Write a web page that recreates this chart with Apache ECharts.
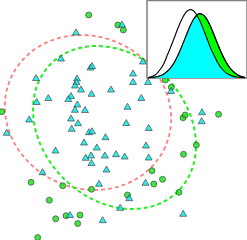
<!DOCTYPE html>
<html><head><meta charset="utf-8">
<script src="https://cdn.jsdelivr.net/npm/echarts@6/dist/echarts.min.js"></script>
<style>html,body{margin:0;padding:0;background:#fff}#c{width:247px;height:240px}</style>
</head><body><div id="c"></div>
<script>
// Group A (cyan triangles)
const triX = [76,61,122,143,90.5,92,133,36,77,76.5,75,133,148,81,111,91.5,141.3,48.3,36.7,71,68.3,77.3,127.5,75,85,71,29.2,78,126.3,148.7,71.7,6.7,89,92,105.5,84,96.8,146,55.5,85.7,91,104.8,116,124.7,148.7,91.5,106.5,42.5,99,145.5,129.2,120.2,70,102.7,183.2,171,202,201.7];
const triY = [32,58,24,61,67,65.5,73,77.5,78,81.5,85,81.5,81.5,89,89,93.3,97.5,97.5,101.5,95.5,98.5,104,106.3,109.3,109.5,118,119,122.7,122.5,127.5,128.3,132.3,131.7,130.8,136.7,142,147,145,150,157.3,155,155,153.7,156,157,162.5,169,171.7,183.3,182.3,197.7,207.3,214.5,219.7,213.3,90.5,111.7,120.7];
// Group B (green circles)
const circX = [88.7,117.8,123.3,1.7,165.3,171.3,183,185.2,218.5,196.3,183.5,152,162.5,153.8,179,127.5,91.5,62.7,31,49.3,55.7,66,80,77.7,37.7];
const circY = [15,25,30,111.7,80,87.3,117.8,115,114.3,145,154.3,170.7,179.3,184,192.3,195,189.3,185.7,182.3,200.2,218.8,215.7,215,223.5,237.5];
// Ellipse parameters: [centerX, centerY, semiMajor, semiMinor, angleDeg]
const redEllipse = [88, 112.5, 84.5, 76, 24];
const greenEllipse = [114.5, 127.5, 90, 72, 45];
// Inset densities
const densX = [148,152,156,160,164,168,172,176,180,184,188,192,196,200,204,208,212,216,220,224,228,232,236,240,244,247];
const whiteDens = [0.5,1.5,3.5,8,14,23.5,33,43.3,53.3,61.6,67,68.4,65.5,59,49.9,39.7,29.6,21.5,13.7,8.5,4.9,2.7,1.4,0.7,0.3,0.1];
const greenDens = [0.2,0.5,1.0,2.0,3.8,6.8,11.3,17.6,25.7,35.1,45.0,54.0,60.8,64.2,63.4,58.8,51.1,41.5,31.7,22.7,15.2,9.5,5.6,2.8,1.2,0.5];

function ellipsePts(p) {
  const [cx, cy, a, b, deg] = p, th = deg * Math.PI / 180, pts = [];
  for (let i = 0; i <= 180; i++) {
    const t = i / 180 * 2 * Math.PI;
    pts.push([cx + a * Math.cos(t) * Math.cos(th) - b * Math.sin(t) * Math.sin(th),
              cy + a * Math.cos(t) * Math.sin(th) + b * Math.sin(t) * Math.cos(th)]);
  }
  return pts;
}
const zip = (xs, ys) => xs.map((x, i) => [x, ys[i]]);
const overlap = densX.map((x, i) => [x, Math.min(whiteDens[i], greenDens[i])]);

const chart = echarts.init(document.getElementById('c'), null, {renderer: 'canvas'});
chart.setOption({
  animation: false,
  backgroundColor: '#fff',
  grid: [
    {left: 0, top: 0, right: 0, bottom: 0, show: false},
    {left: 147, top: 0.5, width: 102, height: 77.5, show: true, backgroundColor: '#fff',
     borderColor: '#808080', borderWidth: 1.5, z: 5}
  ],
  xAxis: [
    {type: 'value', min: 0, max: 247, show: false, gridIndex: 0},
    {type: 'value', min: 147, max: 249, show: false, gridIndex: 1}
  ],
  yAxis: [
    {type: 'value', min: 0, max: 240, inverse: true, show: false, gridIndex: 0},
    {type: 'value', min: 0, max: 77.5, show: false, gridIndex: 1}
  ],
  series: [
    {type: 'line', data: ellipsePts(redEllipse), showSymbol: false, symbol: 'none', z: 2,
     lineStyle: {color: '#ff7f7f', width: 1.8, type: [4, 3]}},
    {type: 'line', data: ellipsePts(greenEllipse), showSymbol: false, symbol: 'none', z: 2,
     lineStyle: {color: '#22ee22', width: 2, type: [4, 3]}},
    {type: 'scatter', data: zip(circX, circY), symbol: 'circle', symbolSize: 6, z: 3,
     itemStyle: {color: '#11e011', borderColor: '#3a3a3a', borderWidth: 0.8}},
    {type: 'scatter', data: zip(triX, triY), symbol: 'triangle', symbolSize: [7, 6], z: 4,
     itemStyle: {color: '#00e5e5', borderColor: '#3a3a3a', borderWidth: 0.8}},
    {type: 'line', xAxisIndex: 1, yAxisIndex: 1, data: zip(densX, greenDens), smooth: 0.4,
     symbol: 'none', z: 6, lineStyle: {color: '#000', width: 1.1}, areaStyle: {color: '#00ff00', opacity: 1}},
    {type: 'line', xAxisIndex: 1, yAxisIndex: 1, data: overlap, smooth: 0.3,
     symbol: 'none', z: 7, lineStyle: {width: 0}, areaStyle: {color: '#00ffff', opacity: 1}},
    {type: 'line', xAxisIndex: 1, yAxisIndex: 1, data: zip(densX, whiteDens), smooth: 0.4,
     symbol: 'none', z: 8, lineStyle: {color: '#000', width: 1.1}},
    {type: 'line', xAxisIndex: 1, yAxisIndex: 1, data: zip(densX, greenDens), smooth: 0.4,
     symbol: 'none', z: 8, lineStyle: {color: '#000', width: 1.1}}
  ]
});
</script></body></html>
